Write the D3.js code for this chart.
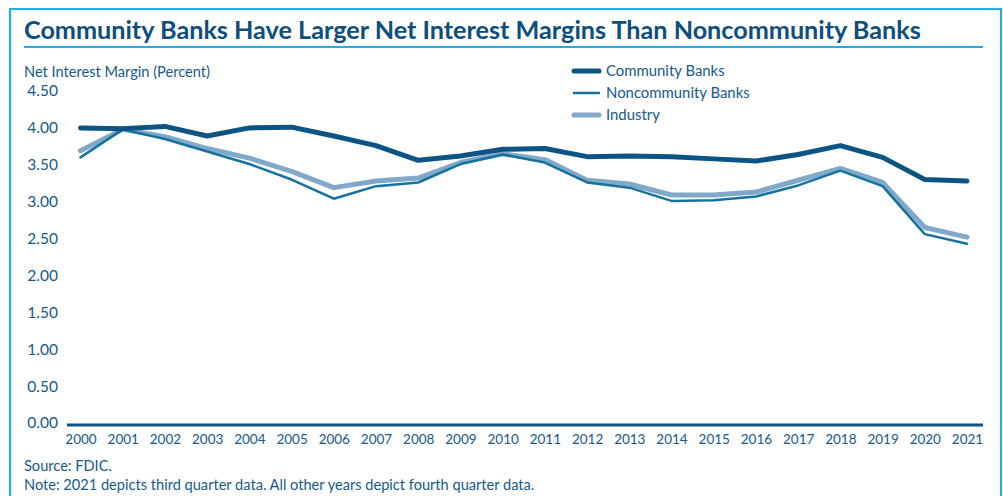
<!DOCTYPE html>
<html>
<head>
<meta charset="utf-8">
<script src="https://cdn.jsdelivr.net/npm/d3@7"></script>
<style>
  html, body { margin: 0; padding: 0; background: #fff; }
  svg { display: block; font-family: Lato, "Open Sans", sans-serif; }
</style>
</head>
<body>
<svg id="chart" width="1003" height="496"></svg>
<script>
// Net interest margin (percent), year-end (2021 = Q3)
const years = ["2000","2001","2002","2003","2004","2005","2006","2007","2008","2009","2010",
               "2011","2012","2013","2014","2015","2016","2017","2018","2019","2020","2021"];
const communityBanks = [4.00, 3.99, 4.02, 3.89, 4.00, 4.01, 3.89, 3.76, 3.56, 3.62, 3.71,
                        3.72, 3.61, 3.62, 3.61, 3.58, 3.55, 3.64, 3.76, 3.60, 3.30, 3.28];
const noncommunityBanks = [3.60, 3.98, 3.85, 3.68, 3.51, 3.30, 3.04, 3.21, 3.26, 3.51, 3.64,
                           3.53, 3.26, 3.19, 3.01, 3.02, 3.07, 3.22, 3.42, 3.21, 2.56, 2.43];
const industry = [3.69, 3.98, 3.88, 3.72, 3.59, 3.41, 3.19, 3.28, 3.32, 3.53, 3.65,
                  3.57, 3.29, 3.24, 3.09, 3.09, 3.13, 3.29, 3.45, 3.26, 2.65, 2.52];
const yTicks = [0, 0.5, 1, 1.5, 2, 2.5, 3, 3.5, 4, 4.5];

const series = [
  { name: "Community Banks",    values: communityBanks,    color: "#0b5484", width: 5 },
  { name: "Noncommunity Banks", values: noncommunityBanks, color: "#15729e", width: 2.5 },
  { name: "Industry",           values: industry,          color: "#80a8c9", width: 5 }
];
// drawing order: industry underneath, community on top
const drawOrder = [series[2], series[1], series[0]];

const svg = d3.select("#chart");
const textColor = "#16598a";

// outer frame
svg.append("path")
  .attr("d", "M10,500 V9 H1001 V500")
  .attr("fill", "none")
  .attr("stroke", "#22ade6")
  .attr("stroke-width", 2.2);

// title + rule
svg.append("text")
  .attr("x", 24).attr("y", 39)
  .attr("fill", "#0d4e7c")
  .attr("font-weight", 700)
  .attr("font-size", 25.2)
  .text("Community Banks Have Larger Net Interest Margins Than Noncommunity Banks");
svg.append("line")
  .attr("x1", 24).attr("x2", 983).attr("y1", 47).attr("y2", 47)
  .attr("stroke", "#22ade6").attr("stroke-width", 2);

// scales
const x = d3.scalePoint().domain(years).range([80.5, 967]);
const y = d3.scaleLinear().domain([0, 4.5]).range([423, 91]);

// y axis label
svg.append("text")
  .attr("x", 24).attr("y", 77)
  .attr("fill", textColor).attr("font-size", 14.6)
  .text("Net Interest Margin (Percent)");

// y axis (labels only)
const yAxis = svg.append("g")
  .attr("transform", "translate(58,0)")
  .call(d3.axisLeft(y).tickValues(yTicks).tickFormat(d3.format(".2f")).tickSize(0).tickPadding(0));
yAxis.select(".domain").remove();
yAxis.selectAll("text")
  .attr("fill", textColor).attr("font-size", 15.5)
  .attr("font-family", "Lato, 'Open Sans', sans-serif");

// x axis
const xAxis = svg.append("g")
  .attr("transform", "translate(0,425)")
  .call(d3.axisBottom(x).tickSize(0).tickPadding(9));
xAxis.select(".domain").remove();
xAxis.selectAll("text")
  .attr("fill", textColor).attr("font-size", 13.5)
  .attr("font-family", "Lato, 'Open Sans', sans-serif");
svg.append("line")
  .attr("x1", 67).attr("x2", 983).attr("y1", 425).attr("y2", 425)
  .attr("stroke", "#0b5484").attr("stroke-width", 3);

// lines
const line = d3.line()
  .x((d, i) => x(years[i]))
  .y(d => y(d));
svg.append("g").selectAll("path")
  .data(drawOrder)
  .join("path")
  .attr("d", d => line(d.values))
  .attr("fill", "none")
  .attr("stroke", d => d.color)
  .attr("stroke-width", d => d.width)
  .attr("stroke-linejoin", "round")
  .attr("stroke-linecap", "round");

// legend
const legend = svg.append("g").attr("transform", "translate(574,71)");
const rows = legend.selectAll("g")
  .data(series)
  .join("g")
  .attr("transform", (d, i) => `translate(0,${i * 22})`);
rows.append("line")
  .attr("x1", 0).attr("x2", 25).attr("y1", 0).attr("y2", 0)
  .attr("stroke", d => d.color)
  .attr("stroke-width", d => d.width)
  .attr("stroke-linecap", "round");
rows.append("text")
  .attr("x", 32).attr("y", 0).attr("dy", "0.35em")
  .attr("fill", textColor).attr("font-size", 14.9)
  .text(d => d.name);

// footnotes
svg.append("text")
  .attr("x", 24).attr("y", 471)
  .attr("fill", textColor).attr("font-size", 14.6)
  .text("Source: FDIC.");
svg.append("text")
  .attr("x", 24).attr("y", 490)
  .attr("fill", textColor).attr("font-size", 14.6)
  .text("Note: 2021 depicts third quarter data. All other years depict fourth quarter data.");
</script>
</body>
</html>
